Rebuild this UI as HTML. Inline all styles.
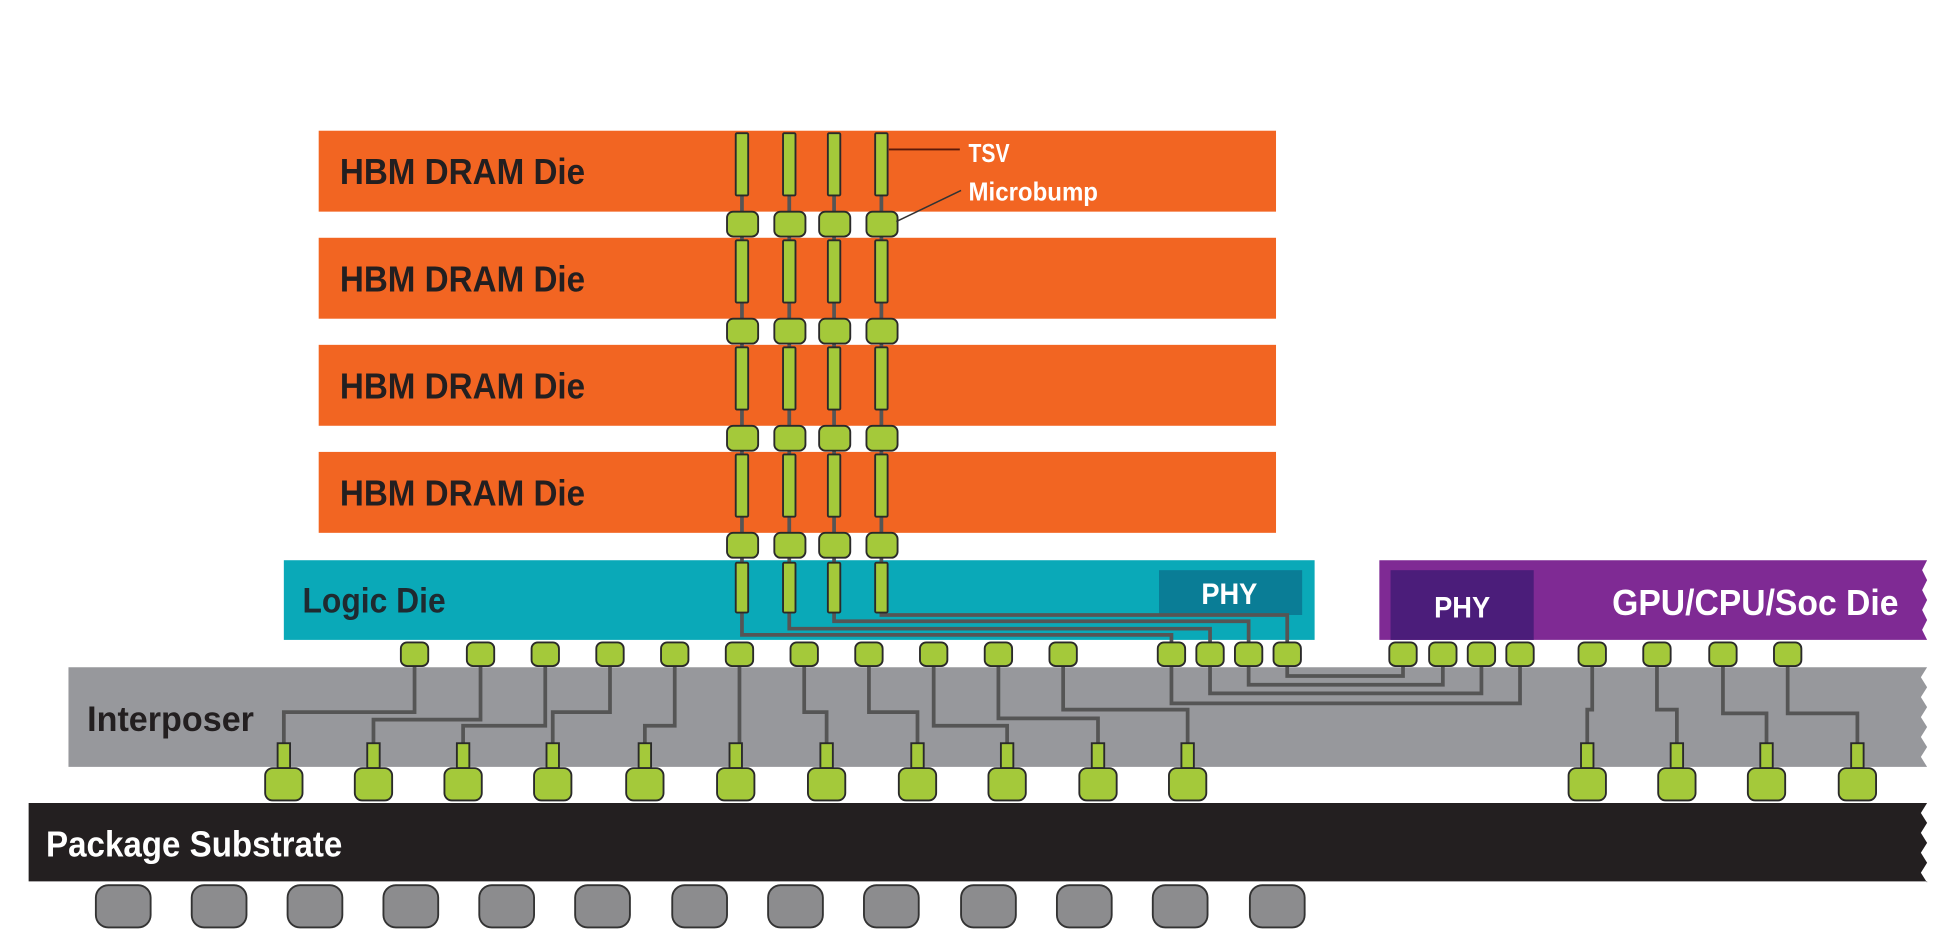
<!DOCTYPE html>
<html><head><meta charset="utf-8"><style>
html,body{margin:0;padding:0;background:#fff;}
svg{display:block;}
text{font-family:"Liberation Sans Narrow","Liberation Sans",sans-serif;font-weight:bold;}
.b{fill:#a4c93a;stroke:#2a2a2a;stroke-width:1.5;}
.w{stroke:#555;stroke-width:3;fill:none;}
.ball{fill:#8c8c8e;stroke:#333;stroke-width:1.5;}
</style></head><body>
<svg width="1952" height="952" viewBox="0 0 1568 764.7" preserveAspectRatio="none" xmlns="http://www.w3.org/2000/svg">
<g fill="#f26522">
<rect x="256" y="105" width="769" height="65"/>
<rect x="256" y="191" width="769" height="65"/>
<rect x="256" y="277" width="769" height="65"/>
<rect x="256" y="363" width="769" height="65"/>
</g>
<g fill="#231f20" font-size="29">
<text x="273" y="148" textLength="197" lengthAdjust="spacingAndGlyphs">HBM DRAM Die</text>
<text x="273" y="234" textLength="197" lengthAdjust="spacingAndGlyphs">HBM DRAM Die</text>
<text x="273" y="320" textLength="197" lengthAdjust="spacingAndGlyphs">HBM DRAM Die</text>
<text x="273" y="406" textLength="197" lengthAdjust="spacingAndGlyphs">HBM DRAM Die</text>
</g>
<rect x="228" y="450" width="828" height="64" fill="#0aa9b8"/>
<rect x="931" y="458" width="115" height="36" fill="#0a7d96"/>
<text x="243" y="492" font-size="28" fill="#1f2a30" textLength="115" lengthAdjust="spacingAndGlyphs">Logic Die</text>
<text x="965" y="485" font-size="24" fill="#fff" textLength="45" lengthAdjust="spacingAndGlyphs">PHY</text>
<path d="M1108 450 H1548 l-4 8 4 8 -4 8 4 8 -4 8 4 8 -4 8 4 8 V514 H1108 Z" fill="#7f2a94"/>
<rect x="1117" y="458" width="115" height="56" fill="#4b1d7a"/>
<text x="1152" y="496" font-size="24" fill="#fff" textLength="45" lengthAdjust="spacingAndGlyphs">PHY</text>
<text x="1295" y="494" font-size="29" fill="#fff" textLength="230" lengthAdjust="spacingAndGlyphs">GPU/CPU/Soc Die</text>
<path d="M55 536 H1548 l-5 8 5 8 -5 8 5 8 -5 8 5 8 -5 8 5 8 -5 8 5 8 V616 H55 Z" fill="#97989c"/>
<text x="70" y="587" font-size="28" fill="#231f20" textLength="134" lengthAdjust="spacingAndGlyphs">Interposer</text>
<path d="M23 645 H1548 l-5 8 5 8 -5 8 5 8 -5 8 5 8 -5 8 5 8 V708 H23 Z" fill="#231f20"/>
<text x="37" y="688" font-size="29" fill="#fff" textLength="238" lengthAdjust="spacingAndGlyphs">Package Substrate</text>
<g class="ball">
<rect x="77" y="711" width="44" height="34" rx="10"/><rect x="154" y="711" width="44" height="34" rx="10"/>
<rect x="231" y="711" width="44" height="34" rx="10"/><rect x="308" y="711" width="44" height="34" rx="10"/>
<rect x="385" y="711" width="44" height="34" rx="10"/><rect x="462" y="711" width="44" height="34" rx="10"/>
<rect x="540" y="711" width="44" height="34" rx="10"/><rect x="617" y="711" width="44" height="34" rx="10"/>
<rect x="694" y="711" width="44" height="34" rx="10"/><rect x="772" y="711" width="44" height="34" rx="10"/>
<rect x="849" y="711" width="44" height="34" rx="10"/><rect x="926" y="711" width="44" height="34" rx="10"/>
<rect x="1004" y="711" width="44" height="34" rx="10"/>
</g>
<g class="w">
<path d="M596 110 V492 M634 110 V492 M670 110 V492 M708 110 V492"/>
<path d="M596 492 V510 H941 V525"/>
<path d="M634 492 V505 H972 V525"/>
<path d="M670 492 V499 H1003 V525"/>
<path d="M708 492 V494 H1034 V525"/>
<path d="M333 525 V572 H228 V600"/>
<path d="M386 525 V578 H300 V600"/>
<path d="M438 525 V583 H372 V600"/>
<path d="M490 525 V572 H444 V600"/>
<path d="M542 525 V583 H518 V600"/>
<path d="M594 525 V600 H591"/>
<path d="M646 525 V572 H664 V600"/>
<path d="M698 525 V572 H737 V600"/>
<path d="M750 525 V583 H809 V600"/>
<path d="M802 525 V577 H882 V600"/>
<path d="M854 525 V570 H954 V600"/>
<path d="M941 525 V565 H1221 V525"/>
<path d="M972 525 V557 H1190 V525"/>
<path d="M1003 525 V550 H1159 V525"/>
<path d="M1034 525 V543 H1127 V525"/>
<path d="M1279 525 V570 H1275 V600"/>
<path d="M1331 525 V570 H1347 V600"/>
<path d="M1384 525 V573 H1419 V600"/>
<path d="M1436 525 V573 H1492 V600"/>
</g>
<g class="b">
<rect x="591" y="107" width="10" height="50" rx="1"/><rect x="629" y="107" width="10" height="50" rx="1"/><rect x="665" y="107" width="10" height="50" rx="1"/><rect x="703" y="107" width="10" height="50" rx="1"/>
<rect x="591" y="193" width="10" height="50" rx="1"/><rect x="629" y="193" width="10" height="50" rx="1"/><rect x="665" y="193" width="10" height="50" rx="1"/><rect x="703" y="193" width="10" height="50" rx="1"/>
<rect x="591" y="279" width="10" height="50" rx="1"/><rect x="629" y="279" width="10" height="50" rx="1"/><rect x="665" y="279" width="10" height="50" rx="1"/><rect x="703" y="279" width="10" height="50" rx="1"/>
<rect x="591" y="365" width="10" height="50" rx="1"/><rect x="629" y="365" width="10" height="50" rx="1"/><rect x="665" y="365" width="10" height="50" rx="1"/><rect x="703" y="365" width="10" height="50" rx="1"/>
<rect x="591" y="452" width="10" height="40" rx="1"/><rect x="629" y="452" width="10" height="40" rx="1"/><rect x="665" y="452" width="10" height="40" rx="1"/><rect x="703" y="452" width="10" height="40" rx="1"/>
<rect x="584" y="170" width="25" height="20" rx="5"/><rect x="622" y="170" width="25" height="20" rx="5"/><rect x="658" y="170" width="25" height="20" rx="5"/><rect x="696" y="170" width="25" height="20" rx="5"/>
<rect x="584" y="256" width="25" height="20" rx="5"/><rect x="622" y="256" width="25" height="20" rx="5"/><rect x="658" y="256" width="25" height="20" rx="5"/><rect x="696" y="256" width="25" height="20" rx="5"/>
<rect x="584" y="342" width="25" height="20" rx="5"/><rect x="622" y="342" width="25" height="20" rx="5"/><rect x="658" y="342" width="25" height="20" rx="5"/><rect x="696" y="342" width="25" height="20" rx="5"/>
<rect x="584" y="428" width="25" height="20" rx="5"/><rect x="622" y="428" width="25" height="20" rx="5"/><rect x="658" y="428" width="25" height="20" rx="5"/><rect x="696" y="428" width="25" height="20" rx="5"/>
<rect x="322" y="516" width="22" height="19" rx="5"/><rect x="375" y="516" width="22" height="19" rx="5"/><rect x="427" y="516" width="22" height="19" rx="5"/><rect x="479" y="516" width="22" height="19" rx="5"/>
<rect x="531" y="516" width="22" height="19" rx="5"/><rect x="583" y="516" width="22" height="19" rx="5"/><rect x="635" y="516" width="22" height="19" rx="5"/><rect x="687" y="516" width="22" height="19" rx="5"/>
<rect x="739" y="516" width="22" height="19" rx="5"/><rect x="791" y="516" width="22" height="19" rx="5"/><rect x="843" y="516" width="22" height="19" rx="5"/>
<rect x="930" y="516" width="22" height="19" rx="5"/><rect x="961" y="516" width="22" height="19" rx="5"/><rect x="992" y="516" width="22" height="19" rx="5"/><rect x="1023" y="516" width="22" height="19" rx="5"/>
<rect x="1116" y="516" width="22" height="19" rx="5"/><rect x="1148" y="516" width="22" height="19" rx="5"/><rect x="1179" y="516" width="22" height="19" rx="5"/><rect x="1210" y="516" width="22" height="19" rx="5"/>
<rect x="1268" y="516" width="22" height="19" rx="5"/><rect x="1320" y="516" width="22" height="19" rx="5"/><rect x="1373" y="516" width="22" height="19" rx="5"/><rect x="1425" y="516" width="22" height="19" rx="5"/>
<rect x="223" y="597" width="10" height="20"/><rect x="295" y="597" width="10" height="20"/><rect x="367" y="597" width="10" height="20"/><rect x="439" y="597" width="10" height="20"/>
<rect x="513" y="597" width="10" height="20"/><rect x="586" y="597" width="10" height="20"/><rect x="659" y="597" width="10" height="20"/><rect x="732" y="597" width="10" height="20"/>
<rect x="804" y="597" width="10" height="20"/><rect x="877" y="597" width="10" height="20"/><rect x="949" y="597" width="10" height="20"/>
<rect x="1270" y="597" width="10" height="20"/><rect x="1342" y="597" width="10" height="20"/><rect x="1414" y="597" width="10" height="20"/><rect x="1487" y="597" width="10" height="20"/>
<rect x="213" y="617" width="30" height="26" rx="6"/><rect x="285" y="617" width="30" height="26" rx="6"/><rect x="357" y="617" width="30" height="26" rx="6"/><rect x="429" y="617" width="30" height="26" rx="6"/>
<rect x="503" y="617" width="30" height="26" rx="6"/><rect x="576" y="617" width="30" height="26" rx="6"/><rect x="649" y="617" width="30" height="26" rx="6"/><rect x="722" y="617" width="30" height="26" rx="6"/>
<rect x="794" y="617" width="30" height="26" rx="6"/><rect x="867" y="617" width="30" height="26" rx="6"/><rect x="939" y="617" width="30" height="26" rx="6"/>
<rect x="1260" y="617" width="30" height="26" rx="6"/><rect x="1332" y="617" width="30" height="26" rx="6"/><rect x="1404" y="617" width="30" height="26" rx="6"/><rect x="1477" y="617" width="30" height="26" rx="6"/>
</g>
<path d="M714 120 H771" stroke="#5a1a0a" stroke-width="1.5"/>
<path d="M720 178 L772 153" stroke="#333" stroke-width="1.2"/>
<text x="778" y="130" font-size="21" fill="#fff" textLength="33" lengthAdjust="spacingAndGlyphs">TSV</text>
<text x="778" y="161" font-size="21" fill="#fff" textLength="104" lengthAdjust="spacingAndGlyphs">Microbump</text>
</svg>
</body></html>
